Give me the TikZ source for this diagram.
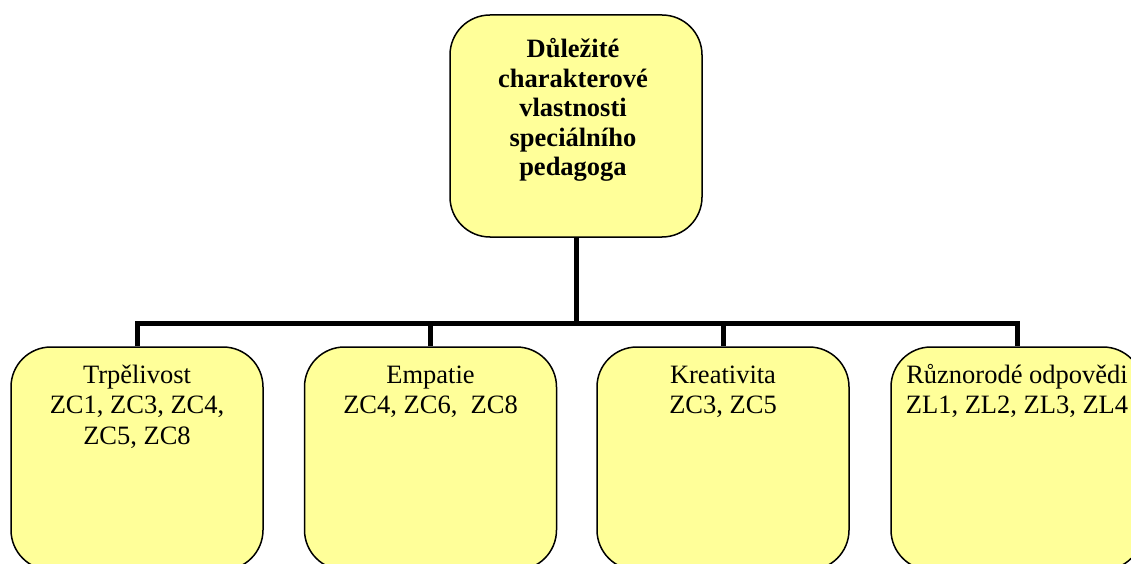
\documentclass[tikz,border=0pt]{standalone}
\usepackage{fontspec}
\setmainfont{Liberation Serif}
\definecolor{boxfill}{HTML}{FFFF99}
\begin{document}
\begin{tikzpicture}[x=1pt,y=1pt,
  box/.style={draw=black, line width=1.5pt, fill=boxfill, rounded corners=40pt,
              minimum width=252pt, inner sep=0pt},
  topbox/.style={box, minimum height=222pt},
  subbox/.style={box, minimum height=223pt},
  headtext/.style={font=\fontsize{26.5}{29.5}\selectfont\bfseries, align=center, anchor=base, inner sep=0pt},
  subtext/.style={font=\fontsize{26.5}{30.5}\selectfont, align=center, anchor=base, inner sep=0pt},
  link/.style={line width=5pt, line join=miter}]
  \fill[white] (0,0) rectangle (1131,563);
  \useasboundingbox (0,0) rectangle (1131,563);
  \begin{scope}
  \clip (0,0) rectangle (1131,563);

  % root box; the base anchor of a multi-line text sits on its last line
  \node[topbox] (root) at (576,437) {};
  \node[headtext] (roottext) at (573,387)
    {Důležité\\charakterové\\vlastnosti\\speciálního\\pedagoga};

  % child boxes
  \node[subbox] (b1) at (137,104.5) {};
  \node[subbox] (b2) at (430.5,104.5) {};
  \node[subbox] (b3) at (723,104.5) {};
  \node[subbox] (b4) at (1017,104.5) {};

  \node[subtext] (t1) at (137,119) {Trpělivost\\ZC1, ZC3, ZC4,\\ZC5, ZC8};
  \node[subtext] (t2) at (430.5,149.5) {Empatie\\ZC4, ZC6,\ \ ZC8};
  \node[subtext] (t3) at (723,149.5) {Kreativita\\ZC3, ZC5};
  \node[subtext] (t4) at (1017,149.5) {Různorodé odpovědi\\ZL1, ZL2, ZL3, ZL4};

  % connectors
  \coordinate (bar) at (576,240);
  \draw[link] (root.south) -- (bar);
  \draw[link] (b1.north) -- (b1.north |- bar) -- (b4.north |- bar) -- (b4.north);
  \draw[link] (b2.north) -- (b2.north |- bar);
  \draw[link] (b3.north) -- (b3.north |- bar);
  \end{scope}
\end{tikzpicture}
\end{document}
